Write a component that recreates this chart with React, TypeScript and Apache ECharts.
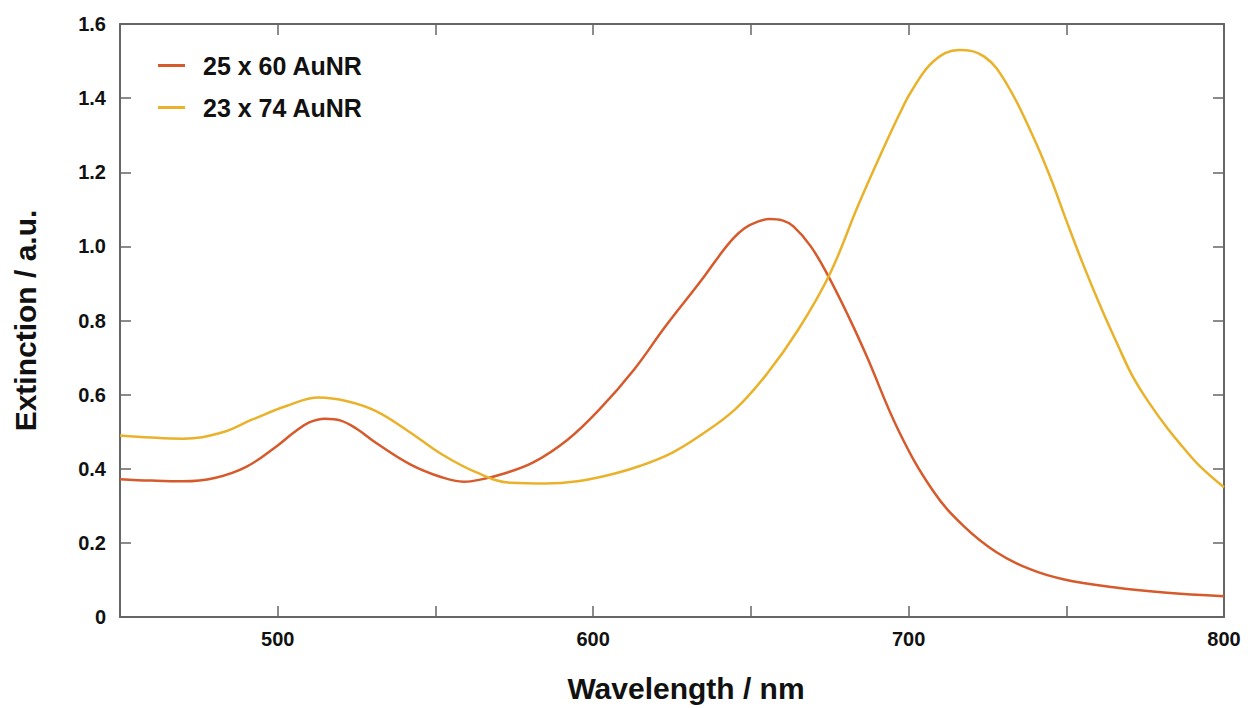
import React, { useEffect, useRef } from "react";
import * as echarts from "echarts";

const wlRed = [450, 460, 470, 480, 490, 500, 505, 510, 515, 520, 525, 531, 542, 552, 559, 565, 571, 581, 592, 602, 613, 623, 634, 640, 644.5, 648, 652, 656, 660, 663.5, 669, 674.6, 681.4, 686.7, 697, 707.8, 717.4, 728, 738.5, 749, 765, 781, 800];
const extRed = [0.372, 0.368, 0.366, 0.375, 0.405, 0.463, 0.497, 0.525, 0.535, 0.53, 0.508, 0.471, 0.412, 0.377, 0.365, 0.372, 0.385, 0.417, 0.479, 0.56, 0.668, 0.785, 0.905, 0.975, 1.022, 1.049, 1.066, 1.074, 1.07, 1.054, 1.0, 0.919, 0.803, 0.704, 0.5, 0.34, 0.246, 0.174, 0.129, 0.102, 0.08, 0.066, 0.056];

const wlYellow = [450, 460, 470, 482, 492, 503, 513, 522, 531, 542, 552, 563, 574, 585, 595, 605, 615, 625, 634, 645, 655, 665, 675, 684, 691, 697, 701, 708, 716, 724, 731, 739.5, 745, 750, 755.4, 761, 766, 771, 776.5, 782, 787, 792, 800];
const extYellow = [0.49, 0.484, 0.481, 0.497, 0.533, 0.57, 0.592, 0.582, 0.556, 0.498, 0.439, 0.39, 0.362, 0.36, 0.366, 0.383, 0.408, 0.443, 0.49, 0.56, 0.655, 0.775, 0.925, 1.11, 1.245, 1.355, 1.42, 1.5, 1.53, 1.512, 1.44, 1.296, 1.185, 1.07, 0.95, 0.835, 0.74, 0.65, 0.575, 0.51, 0.458, 0.41, 0.35];

const seriesNames = ["25 x 60 AuNR", "23 x 74 AuNR"];
const xLabeled = [500, 600, 700, 800];

const RED = "#D65A2B";
const YELLOW = "#E9B22A";
const AXIS = "#666666";
const FONT = "Liberation Sans, Arial, sans-serif";

function axisLine() {
  return { show: true, onZero: false, lineStyle: { color: AXIS, width: 2 } };
}
function tick() {
  return { show: true, inside: true, length: 11, lineStyle: { color: AXIS, width: 1.5 } };
}

export default function App() {
  const ref = useRef<HTMLDivElement>(null);
  useEffect(() => {
    if (!ref.current) return;
    const chart = echarts.init(ref.current, undefined, { renderer: "svg" });
    chart.setOption({
      animation: false,
      backgroundColor: "#ffffff",
      textStyle: { fontFamily: FONT },
      grid: { left: 120, right: 24, top: 24, bottom: 90, containLabel: false },
      legend: {
        orient: "vertical",
        left: 153,
        top: 48,
        icon: "rect",
        itemWidth: 27,
        itemHeight: 3,
        itemGap: 17,
        data: seriesNames,
        textStyle: { fontSize: 25, fontWeight: "bold", color: "#111", fontFamily: FONT, lineHeight: 24, padding: [0, 0, 0, 13] },
      },
      xAxis: [
        {
          type: "value",
          min: 450,
          max: 800,
          interval: 50,
          position: "bottom",
          name: "Wavelength / nm",
          nameLocation: "middle",
          nameGap: 56,
          nameTextStyle: { fontSize: 30, fontWeight: "bold", color: "#111", fontFamily: FONT, padding: [0, 0, 0, 28] },
          axisLine: axisLine(),
          axisTick: tick(),
          splitLine: { show: false },
          axisLabel: {
            fontSize: 20,
            fontWeight: "bold",
            color: "#111",
            margin: 12,
            fontFamily: FONT,
            formatter: (v: number) => (xLabeled.includes(v) ? String(v) : ""),
          },
        },
        {
          type: "value",
          min: 450,
          max: 800,
          interval: 50,
          position: "top",
          axisLine: axisLine(),
          axisTick: tick(),
          axisLabel: { show: false },
          splitLine: { show: false },
        },
      ],
      yAxis: [
        {
          type: "value",
          min: 0,
          max: 1.6,
          interval: 0.2,
          position: "left",
          name: "Extinction / a.u.",
          nameLocation: "middle",
          nameGap: 80,
          nameRotate: 90,
          nameTextStyle: { fontSize: 30, fontWeight: "bold", color: "#111", fontFamily: FONT },
          axisLine: axisLine(),
          axisTick: tick(),
          splitLine: { show: false },
          axisLabel: {
            fontSize: 20,
            fontWeight: "bold",
            color: "#111",
            margin: 14,
            fontFamily: FONT,
            formatter: (v: number) => (v === 0 ? "0" : v.toFixed(1)),
          },
        },
        {
          type: "value",
          min: 0,
          max: 1.6,
          interval: 0.2,
          position: "right",
          axisLine: axisLine(),
          axisTick: tick(),
          axisLabel: { show: false },
          splitLine: { show: false },
        },
      ],
      series: [
        {
          name: seriesNames[0],
          type: "line",
          xAxisIndex: 0,
          yAxisIndex: 0,
          smooth: 0.4,
          showSymbol: false,
          color: RED,
          lineStyle: { color: RED, width: 2.5 },
          data: wlRed.map((w, i) => [w, extRed[i]]),
        },
        {
          name: seriesNames[1],
          type: "line",
          xAxisIndex: 0,
          yAxisIndex: 0,
          smooth: 0.4,
          showSymbol: false,
          color: YELLOW,
          lineStyle: { color: YELLOW, width: 2.5 },
          data: wlYellow.map((w, i) => [w, extYellow[i]]),
        },
      ],
    });
    return () => chart.dispose();
  }, []);
  return <div ref={ref} style={{ position: "fixed", left: 0, top: 0, width: 1248, height: 708 }} />;
}
